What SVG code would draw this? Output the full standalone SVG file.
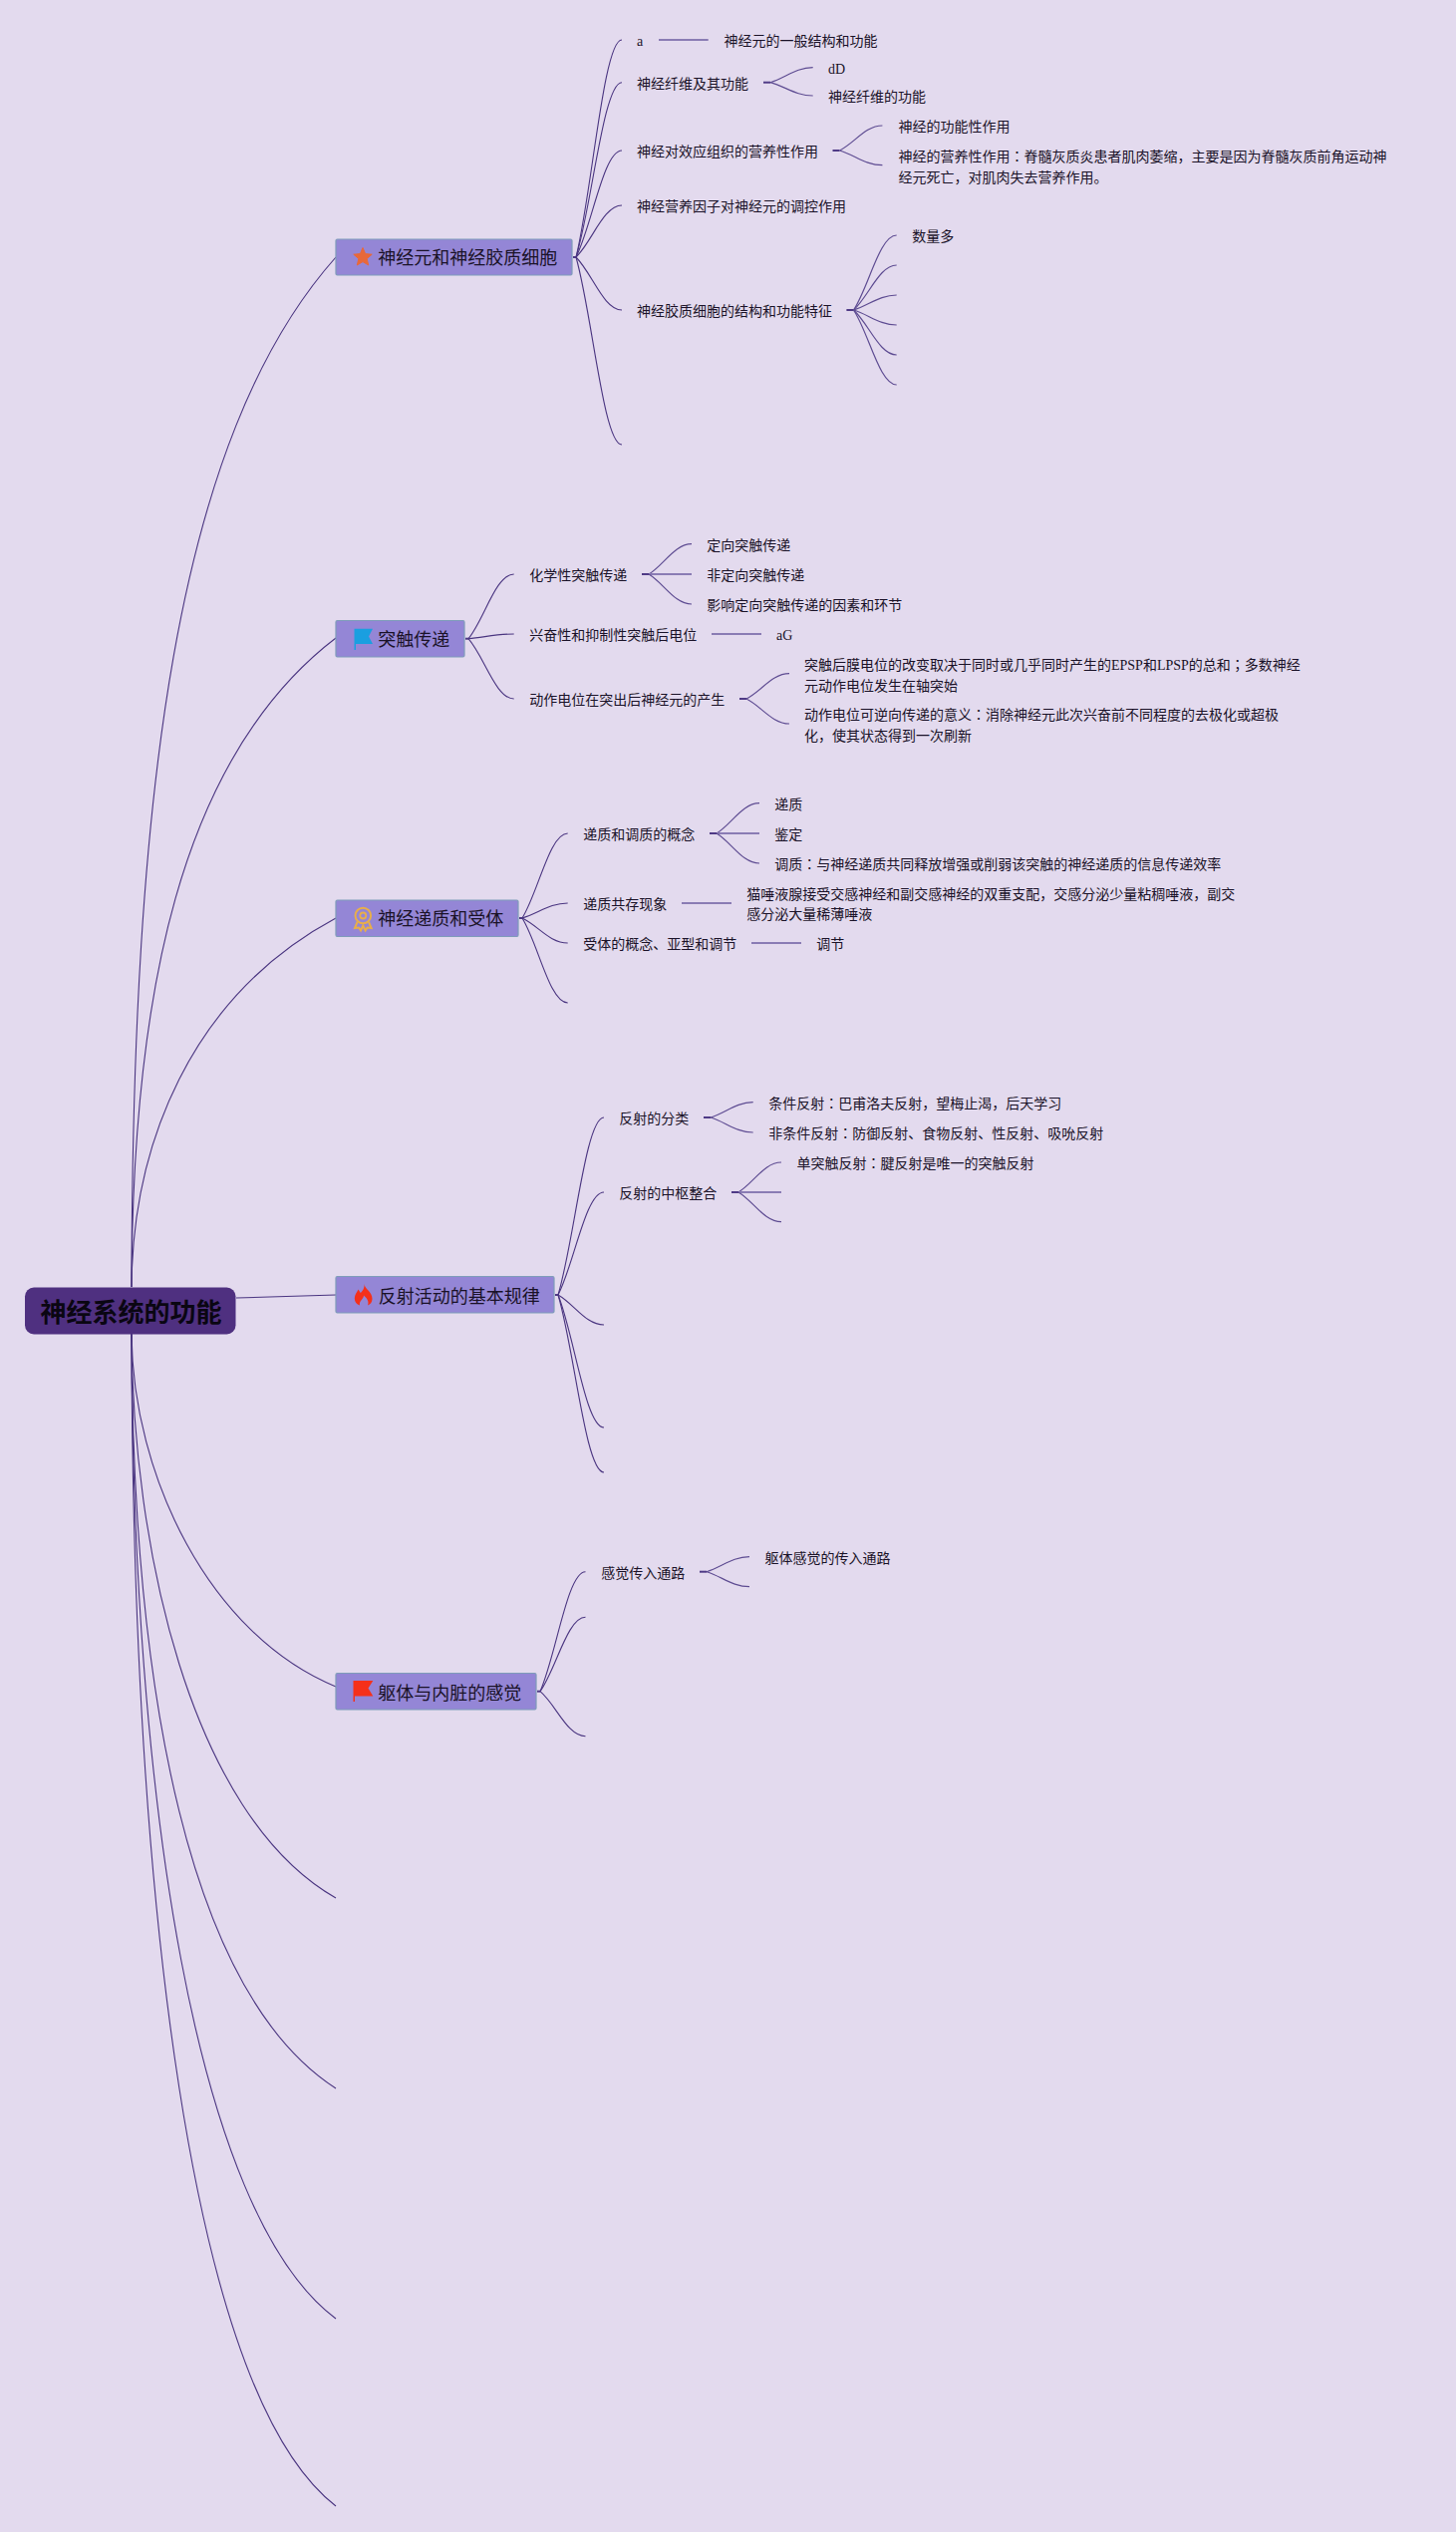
<svg xmlns="http://www.w3.org/2000/svg" width="1461" height="2540" viewBox="0 0 1461 2540">
<style>
text{font-family:"Noto Sans CJK SC","Noto Sans CJK TC",sans-serif;fill:#1a1228}
.t{font-size:14px}
.l{font-size:14px;font-family:"Liberation Serif","Noto Sans CJK SC",serif}
.c{font-family:"Noto Sans CJK TC",sans-serif}
.h{font-size:18px}
.r{font-size:26px;font-weight:700;fill:#0a0612}
.box{fill:#9486d6;stroke:#7f9cba;stroke-width:1.2}
.a{fill:none;stroke:#4a3580;stroke-width:1.1}
.b{fill:none;stroke:#5e4c92;stroke-width:1.2}
.s{fill:none;stroke:#4f3a86;stroke-width:2}
.d{fill:none;stroke:#8a7cb4;stroke-width:2}
</style>
<rect width="1461" height="2540" fill="#e3daee"/>
<g id="connectors">
<g id="root-links">
<path class="a" d="M132 1291C133 800 175 440 337 258"/>
<path class="a" d="M132 1291C133 1000 180 760 337 640"/>
<path class="a" d="M132 1291C133 1150 190 1000 337 921"/>
<path class="a" d="M237 1302L337 1299"/>
<path class="a" d="M132 1338C133 1480 210 1640 337 1692"/>
<path class="a" d="M132 1338C133 1550 190 1820 337 1904"/>
<path class="a" d="M132 1338C133 1700 190 2000 337 2095"/>
<path class="a" d="M132 1338C133 1800 195 2220 337 2326"/>
<path class="a" d="M132 1338C133 1900 190 2400 337 2514"/>
</g>
<g id="topic1-links">
<path class="s" d="M575 258H578"/>
<path class="a" d="M578 258C594.1 192.6 605.6 40 624 40"/>
<path class="a" d="M578 258C594.1 205.4 605.6 82.7 624 82.7"/>
<path class="a" d="M578 258C594.1 225.9 605.6 151 624 151"/>
<path class="a" d="M578 258C594.1 242.4 605.6 206 624 206"/>
<path class="a" d="M578 258C594.1 273.9 605.6 311 624 311"/>
<path class="a" d="M578 258C594.1 314.4 605.6 446 624 446"/>
<path class="d" d="M661 40H710.7"/>
<path class="s" d="M766 82.7H773"/>
<path class="b" d="M773 82.7C788 78.2 798.6 67.7 815.7 67.7"/>
<path class="b" d="M773 82.7C788 86.7 798.6 96 815.7 96"/>
<path class="s" d="M835.5 151H842.5"/>
<path class="b" d="M842.5 151C857.5 143.5 868.3 126 885.4 126"/>
<path class="b" d="M842.5 151C857.5 155.4 868.3 165.7 885.4 165.7"/>
<path class="s" d="M849.4 311H856.5"/>
<path class="b" d="M856.5 311C871.6 288.5 882.4 236 899.7 236"/>
<path class="b" d="M856.5 311C871.6 297.5 882.4 266 899.7 266"/>
<path class="b" d="M856.5 311C871.6 306.5 882.4 296 899.7 296"/>
<path class="b" d="M856.5 311C871.6 315.5 882.4 326 899.7 326"/>
<path class="b" d="M856.5 311C871.6 324.5 882.4 356 899.7 356"/>
<path class="b" d="M856.5 311C871.6 333.5 882.4 386 899.7 386"/>
</g>
<g id="topic2-links">
<path class="s" d="M467 640.7H470"/>
<path class="a" d="M470 640.7C486 621.3 497.4 576 515.7 576"/>
<path class="a" d="M470 640.7C486 639.3 497.4 636 515.7 636"/>
<path class="a" d="M470 640.7C486 658.8 497.4 701 515.7 701"/>
<path class="s" d="M644 576H651"/>
<path class="b" d="M651 576C666 566.9 676.8 545.7 694 545.7"/>
<path class="d" d="M651 576H694"/>
<path class="b" d="M651 576C666 585 676.8 606 694 606"/>
<path class="d" d="M714 636H764"/>
<path class="s" d="M742 701H749"/>
<path class="b" d="M749 701C764 693.4 774.8 675.7 792 675.7"/>
<path class="b" d="M749 701C764 708.5 774.8 726 792 726"/>
</g>
<g id="topic3-links">
<path class="s" d="M521 921H524"/>
<path class="a" d="M524 921C540 895.5 551.4 836 569.7 836"/>
<path class="a" d="M524 921C540 916.5 551.4 906 569.7 906"/>
<path class="a" d="M524 921C540 928.5 551.4 946 569.7 946"/>
<path class="a" d="M524 921C540 946.5 551.4 1006 569.7 1006"/>
<path class="s" d="M712 836H719"/>
<path class="b" d="M719 836C734 826.9 744.8 805.7 762 805.7"/>
<path class="d" d="M719 836H762"/>
<path class="b" d="M719 836C734 845 744.8 866 762 866"/>
<path class="d" d="M684 906H734"/>
<path class="d" d="M754 946H804"/>
</g>
<g id="topic4-links">
<path class="s" d="M557 1299H560"/>
<path class="a" d="M560 1299C576.1 1245.6 587.6 1121 606 1121"/>
<path class="a" d="M560 1299C576.1 1268.1 587.6 1196 606 1196"/>
<path class="a" d="M560 1299C576.1 1308 587.6 1329 606 1329"/>
<path class="a" d="M560 1299C576.1 1338.9 587.6 1432 606 1432"/>
<path class="a" d="M560 1299C576.1 1352.4 587.6 1477 606 1477"/>
<path class="s" d="M706 1121H713"/>
<path class="b" d="M713 1121C728 1116.4 738.6 1105.7 755.7 1105.7"/>
<path class="b" d="M713 1121C728 1125.5 738.6 1136 755.7 1136"/>
<path class="s" d="M734 1196H741"/>
<path class="b" d="M741 1196C756 1187 766.8 1166 784 1166"/>
<path class="d" d="M741 1196H784"/>
<path class="b" d="M741 1196C756 1204.9 766.8 1225.7 784 1225.7"/>
</g>
<g id="topic5-links">
<path class="s" d="M539 1696.7H542"/>
<path class="a" d="M542 1696.7C558 1660.7 569.3 1576.7 587.5 1576.7"/>
<path class="a" d="M542 1696.7C558 1674.4 569.3 1622.3 587.5 1622.3"/>
<path class="a" d="M542 1696.7C558 1710.2 569.3 1741.7 587.5 1741.7"/>
<path class="s" d="M702 1576.7H709"/>
<path class="b" d="M709 1576.7C724 1572.2 734.8 1561.7 752 1561.7"/>
<path class="b" d="M709 1576.7C724 1581.2 734.8 1591.7 752 1591.7"/>
</g>
</g>
<g id="root"><rect x="25" y="1291.5" width="211.5" height="47" rx="9" fill="#4f3080"/><text class="r" x="40.5" y="1326">神经系统的功能</text></g>
<g id="topic1"><rect class="box" x="337" y="240" width="237" height="36" rx="1.5"/>
<path d="M364 248.5L366.6 254.6 373.2 255.2 368.2 259.5 369.7 266 364 262.6 358.3 266 359.8 259.5 354.8 255.2 361.4 254.6Z" fill="#e8683a" stroke="#e8683a" stroke-width="1" stroke-linejoin="round"/>
<text class="h" x="379.3" y="265">神经元和神经胶质细胞</text></g>
<g id="topic2"><rect class="box" x="337" y="622.5" width="129" height="36.5" rx="1.5"/>
<path d="M355.5 630.7H374L370 638.5 374 646H357V652H355.5Z" fill="#1a9fe0"/>
<text class="h" x="379.3" y="648">突触传递</text></g>
<g id="topic3"><rect class="box" x="337" y="903" width="183" height="36.5" rx="1.5"/>
<path d="M358.5 925L356 931 360 930.5 362 933.5 364.3 928.5 366.6 933.5 368.600 930.500 372.600 931 370 925" fill="none" stroke="#e8ae4a" stroke-width="2"/>
<circle cx="364.300" cy="918.500" r="7.800" fill="none" stroke="#e8ae4a" stroke-width="2"/><circle cx="364.300" cy="918.500" r="3" fill="none" stroke="#e8ae4a" stroke-width="1.800"/>
<text class="h" x="379.300" y="928">神经递质和受体</text></g>
<g id="topic4"><rect class="box" x="337" y="1280.500" width="219" height="36.500" rx="1.500"/>
<path d="M365.500 1288C365.500 1292.500 373.500 1296 373.500 1303 373.500 1306.500 371.500 1308.500 369 1309.500 370.500 1306 368.500 1302.500 365 1299.500 365 1303 360 1305 361 1309.500 358 1308.500 355.800 1306 355.800 1302.500 355.800 1299 358 1296.500 359.500 1293.500L361.800 1297C364 1295 366 1292 365.500 1288Z" fill="#f5301a"/>
<text class="h" x="379.700" y="1306.500">反射活动的基本规律</text></g>
<g id="topic5"><rect class="box" x="337" y="1678.500" width="201" height="36.500" rx="1.500"/>
<path d="M354.500 1686H374.300L369.500 1693.500 374.300 1701.500H356V1707H354.500Z" fill="#f5301a"/>
<text class="h" x="379.300" y="1704.500">躯体与内脏的感觉</text></g>
<g id="n1"><text class="l" x="639" y="46">a</text></g>
<g id="n1a"><text class="t" x="726.500" y="46">神经元的一般结构和功能</text></g>
<g id="n2"><text class="t" x="639" y="88.500">神经纤维及其功能</text></g>
<g id="n2a"><text class="l" x="831" y="73.500">dD</text></g>
<g id="n2b"><text class="t" x="831" y="102">神经纤维的功能</text></g>
<g id="n3"><text class="t" x="639" y="156.500">神经对效应组织的营养性作用</text></g>
<g id="n3a"><text class="t" x="901.500" y="132">神经的功能性作用</text></g>
<g id="n3b"><text class="t" x="901.500" y="162">神经的营养性作用<tspan class="c">：</tspan>脊髓灰质炎患者肌肉萎缩，主要是因为脊髓灰质前角运动神</text><text class="t" x="901.500" y="182.500">经元死亡，对肌肉失去营养作用。</text></g>
<g id="n4"><text class="t" x="639" y="212">神经营养因子对神经元的调控作用</text></g>
<g id="n5"><text class="t" x="639" y="317">神经胶质细胞的结构和功能特征</text></g>
<g id="n5a"><text class="t" x="915.300" y="242">数量多</text></g>
<g id="n6"><text class="t" x="531.300" y="581.500">化学性突触传递</text></g>
<g id="n6a"><text class="t" x="709.300" y="551.500">定向突触传递</text></g>
<g id="n6b"><text class="t" x="709.300" y="581.500">非定向突触传递</text></g>
<g id="n6c"><text class="t" x="709.300" y="611.500">影响定向突触传递的因素和环节</text></g>
<g id="n7"><text class="t" x="531.300" y="641.500">兴奋性和抑制性突触后电位</text></g>
<g id="n7a"><text class="l" x="779" y="642">aG</text></g>
<g id="n8"><text class="t" x="531.300" y="706.500">动作电位在突出后神经元的产生</text></g>
<g id="n8a"><text class="t" x="807" y="672">突触后膜电位的改变取决于同时或几乎同时产生的<tspan class="l">EPSP</tspan>和<tspan class="l">LPSP</tspan>的总和<tspan class="c">；</tspan>多数神经</text><text class="t" x="807" y="692.500">元动作电位发生在轴突始</text></g>
<g id="n8b"><text class="t" x="807" y="722">动作电位可逆向传递的意义<tspan class="c">：</tspan>消除神经元此次兴奋前不同程度的去极化或超极</text><text class="t" x="807" y="742.500">化，使其状态得到一次刷新</text></g>
<g id="n9"><text class="t" x="585.300" y="841.500">递质和调质的概念</text></g>
<g id="n9a"><text class="t" x="777.300" y="811.500">递质</text></g>
<g id="n9b"><text class="t" x="777.300" y="841.500">鉴定</text></g>
<g id="n9c"><text class="t" x="777.300" y="871.500">调质<tspan class="c">：</tspan>与神经递质共同释放增强或削弱该突触的神经递质的信息传递效率</text></g>
<g id="n10"><text class="t" x="585.300" y="911.500">递质共存现象</text></g>
<g id="n10a"><text class="t" x="749.300" y="902">猫唾液腺接受交感神经和副交感神经的双重支配，交感分泌少量粘稠唾液，副交</text><text class="t" x="749.300" y="922">感分泌大量稀薄唾液</text></g>
<g id="n11"><text class="t" x="585.300" y="951.500">受体的概念、亚型和调节</text></g>
<g id="n11a"><text class="t" x="819.300" y="952">调节</text></g>
<g id="n12"><text class="t" x="621.200" y="1127">反射的分类</text></g>
<g id="n12a"><text class="t" x="771.200" y="1111.500">条件反射<tspan class="c">：</tspan>巴甫洛夫反射，望梅止渴，后天学习</text></g>
<g id="n12b"><text class="t" x="771.200" y="1141.500">非条件反射<tspan class="c">：</tspan>防御反射、食物反射、性反射、吸吮反射</text></g>
<g id="n13"><text class="t" x="621.200" y="1201.500">反射的中枢整合</text></g>
<g id="n13a"><text class="t" x="799.500" y="1172">单突触反射<tspan class="c">：</tspan>腱反射是唯一的突触反射</text></g>
<g id="n14"><text class="t" x="603.200" y="1583">感觉传入通路</text></g>
<g id="n14a"><text class="t" x="767.500" y="1568">躯体感觉的传入通路</text></g>
</svg>
